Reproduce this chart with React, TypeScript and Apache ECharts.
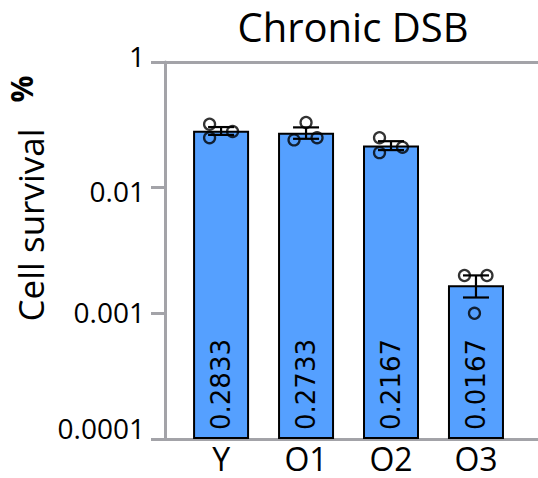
import React, { useEffect, useRef } from "react";
import * as echarts from "echarts";

// Survival per group (bar = mean of the three replicates)
const categories = ["Y", "O1", "O2", "O3"];
const barValues = [0.2833, 0.2733, 0.2167, 0.0167];
const replicates = [
  [0.32, 0.28, 0.25],
  [0.33, 0.24, 0.25],
  [0.25, 0.19, 0.21],
  [0.02, 0.02, 0.01],
];
// Decade ticks of the log axis and the text printed next to each
const tickExponents = [-3, -2, -1, 0];
const tickLabels = ["0.0001", "0.001", "0.01", "1"];
const chartTitle = "Chronic DSB";
const yTitle = "Cell survival";
const yUnit = "%";

// Horizontal spread of the replicate dots within a bar, in pixels
const dotShift = [
  [-11.5, 11.5, -11.5],
  [0, -12, 11],
  [-11.5, -11.5, 11.5],
  [-11.5, 11, -1.5],
];

const BLUE = "#55A0FF";
const GREY = "#A3A3A8";
const FONT = "Open Sans";

function sem(vals: number[]): number {
  const n = vals.length;
  const m = vals.reduce((a, b) => a + b, 0) / n;
  const v = vals.reduce((a, b) => a + (b - m) * (b - m), 0) / (n - 1);
  return Math.sqrt(v / n);
}

// per-label vertical nudges (padding)
const tickPad: Record<number, number[]> = {
  0: [0, 0, 22, 0],
  1: [0, 0, 3, 0],
  2: [6, 0, 0, 0],
  3: [0, 0, 13, 0],
};

export default function App() {
  const ref = useRef<HTMLDivElement>(null);

  useEffect(() => {
    document.body.style.margin = "0";
    if (!ref.current) return;
    const chart = echarts.init(ref.current, undefined, { renderer: "svg" });

    const rich: Record<string, any> = {};
    tickLabels.forEach((_, i) => {
      rich["t" + i] = {
        fontSize: 28,
        fontFamily: FONT,
        color: "#000",
        padding: tickPad[i],
      };
    });

    const errData = replicates.map((vals, i) => {
      const s = sem(vals);
      return [i, barValues[i] - s, barValues[i] + s];
    });

    const dotData: any[] = [];
    replicates.forEach((vals, i) => {
      vals.forEach((v, j) => {
        dotData.push({ value: [i, v], symbolOffset: [dotShift[i][j], 0] });
      });
    });

    const xMin = -0.66;
    const xMax = 3.73;

    chart.setOption({
      animation: false,
      backgroundColor: "#fff",
      grid: { left: 165, top: 62, width: 383, height: 377, containLabel: false },
      xAxis: [
        {
          type: "value",
          min: xMin,
          max: xMax,
          position: "bottom",
          axisLine: { show: true, onZero: false, lineStyle: { color: GREY, width: 3 } },
          axisTick: { show: false },
          splitLine: { show: false },
          axisLabel: {
            customValues: [0, 1, 2, 3],
            formatter: (v: number) => categories[Math.round(v)] ?? "",
            fontSize: 32,
            lineHeight: 30,
            fontFamily: FONT,
            color: "#000",
            margin: 4,
          },
        },
        {
          type: "value",
          min: xMin,
          max: xMax,
          position: "top",
          axisLine: { show: true, onZero: false, lineStyle: { color: GREY, width: 3 } },
          axisTick: { show: false },
          axisLabel: { show: false },
          splitLine: { show: false },
        },
      ],
      yAxis: {
        type: "log",
        logBase: 10,
        min: 0.001,
        max: 1,
        startValue: 0.001,
        axisLine: { show: true, onZero: false, lineStyle: { color: GREY, width: 3 } },
        axisTick: { show: true, length: 14, lineStyle: { color: GREY, width: 3 } },
        splitLine: { show: false },
        axisLabel: {
          margin: 20,
          fontSize: 28,
          fontFamily: FONT,
          color: "#000",
          formatter: (v: number) => {
            const e = Math.round(Math.log10(v));
            const i = tickExponents.indexOf(e);
            return i < 0 ? "" : `{t${i}|${tickLabels[i]}}`;
          },
          rich,
        },
      },
      series: [
        {
          type: "bar",
          xAxisIndex: 0,
          data: barValues.map((v, i) => [i, v]),
          barWidth: 56,
          itemStyle: { color: BLUE, borderColor: "#000", borderWidth: 2 },
          label: {
            show: true,
            position: "insideBottom",
            rotate: 90,
            align: "left",
            verticalAlign: "middle",
            distance: 9,
            fontSize: 26,
            fontFamily: "DejaVu Sans",
            color: "#000",
            formatter: (p: any) => String(p.value[1]),
          },
          z: 2,
        },
        {
          type: "custom",
          xAxisIndex: 0,
          data: errData,
          z: 3,
          renderItem: (_params: any, api: any) => {
            const x = api.value(0);
            const lo = api.coord([x, api.value(1)]);
            const hi = api.coord([x, api.value(2)]);
            const half = 13;
            const st = { stroke: "#000", lineWidth: 2.2 };
            return {
              type: "group",
              children: [
                { type: "line", shape: { x1: lo[0], y1: lo[1], x2: hi[0], y2: hi[1] }, style: st },
                { type: "line", shape: { x1: hi[0] - half, y1: hi[1], x2: hi[0] + half, y2: hi[1] }, style: st },
                { type: "line", shape: { x1: lo[0] - half, y1: lo[1], x2: lo[0] + half, y2: lo[1] }, style: st },
              ],
            };
          },
        },
        {
          type: "scatter",
          xAxisIndex: 0,
          data: dotData,
          symbol: "circle",
          symbolSize: 11,
          itemStyle: { color: "rgba(0,0,0,0)", borderColor: "#000", borderWidth: 2.3 },
          z: 4,
        },
      ],
      graphic: [
        {
          type: "text",
          x: 353,
          y: 26,
          style: {
            text: chartTitle,
            fontSize: 40,
            lineHeight: 40,
            fontFamily: FONT,
            fill: "#000",
            align: "center",
            verticalAlign: "middle",
          },
        },
        {
          type: "text",
          x: 30,
          y: 225,
          rotation: Math.PI / 2,
          style: {
            text: yTitle,
            fontSize: 35,
            fontFamily: FONT,
            fill: "#000",
            align: "center",
            verticalAlign: "middle",
          },
        },
        {
          type: "text",
          x: 21,
          y: 89,
          rotation: Math.PI / 2,
          style: {
            text: yUnit,
            fontSize: 30,
            fontWeight: "bold",
            fontFamily: FONT,
            fill: "#000",
            align: "center",
            verticalAlign: "middle",
          },
        },
      ],
    });

    return () => chart.dispose();
  }, []);

  return <div ref={ref} style={{ width: 538, height: 478 }} />;
}
